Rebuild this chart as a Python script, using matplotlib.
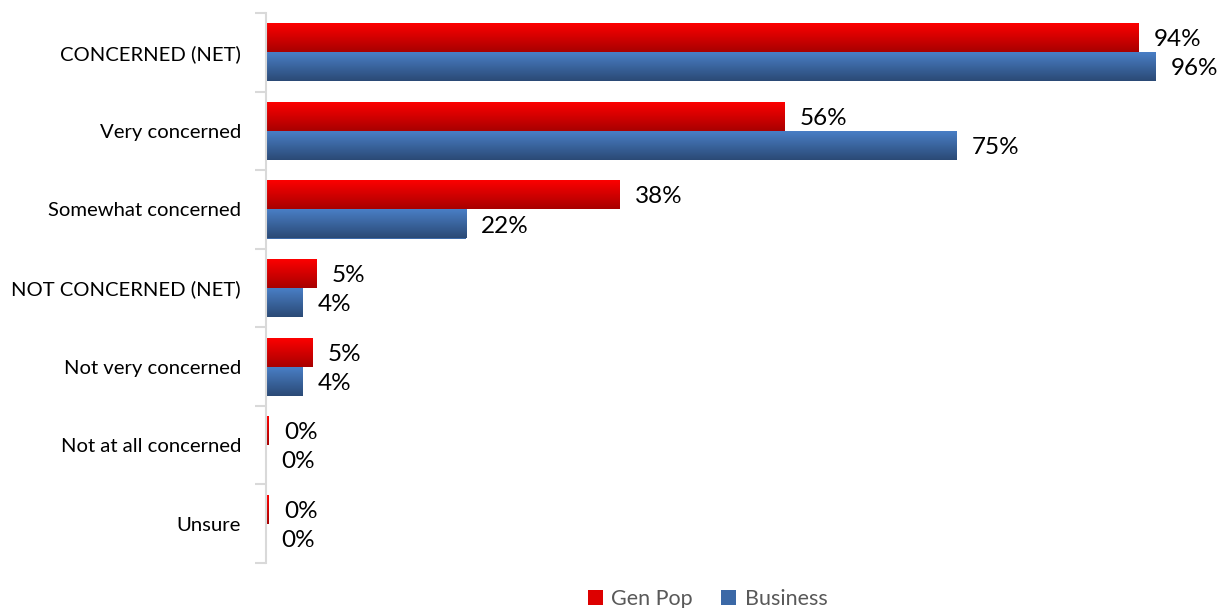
import numpy as np
import matplotlib.pyplot as plt
from matplotlib.patches import Patch

categories = ['CONCERNED (NET)', 'Very concerned', 'Somewhat concerned',
              'NOT CONCERNED (NET)', 'Not very concerned', 'Not at all concerned', 'Unsure']
gen_pop = [94.2, 56.0, 38.2, 5.4, 5.0, 0.3, 0.3]
business = [96.0, 74.6, 21.6, 3.9, 3.9, 0.0, 0.0]
series_names = ['Gen Pop', 'Business']

plt.rcParams['font.family'] = ['Lato', 'DejaVu Sans']

fig = plt.figure(figsize=(12.2, 6.08), dpi=100)
ax = fig.add_axes([266 / 1220, 45 / 608, 1 - 266 / 1220, 550 / 608])

n = len(categories)
pos = np.arange(n)[::-1]
h = 0.37

red_grad = plt.matplotlib.colors.LinearSegmentedColormap.from_list('r', ['#a80000', '#ff0000'])
blue_grad = plt.matplotlib.colors.LinearSegmentedColormap.from_list('b', ['#2b4a76', '#4a80c8'])
grad = np.linspace(0, 1, 64).reshape(-1, 1)

bars_r = ax.barh(pos + h / 2, gen_pop, height=h, color='#e00000')
bars_b = ax.barh(pos - h / 2, business, height=h, color='#3d6aa8')

# gradient fill top-to-bottom on each bar
for bars, cm in [(bars_r, red_grad), (bars_b, blue_grad)]:
    for p in bars:
        w = p.get_width()
        if w <= 0:
            continue
        x0, y0 = p.get_x(), p.get_y()
        im = ax.imshow(grad, extent=[x0, x0 + w, y0, y0 + p.get_height()],
                       origin='lower', aspect='auto', cmap=cm, zorder=2)
        im.set_clip_path(p)

for bars, vals in [(bars_r, gen_pop), (bars_b, business)]:
    for p, v in zip(bars, vals):
        ax.annotate('{:.0f}%'.format(v), (p.get_width(), p.get_y() + p.get_height() / 2),
                    xytext=(11, -1.5), textcoords='offset points', va='center', ha='left',
                    fontsize=17.5, color='#000000')

ax.set_xlim(0, 103)
ax.set_ylim(-0.5, n - 0.5)
ax.set_yticks(pos)
ax.set_yticklabels(categories, fontsize=14.6)
ax.set_yticks(np.arange(n + 1) - 0.5, minor=True)
ax.tick_params(axis='y', which='major', length=0, pad=18)
ax.tick_params(axis='y', which='minor', length=8, color='#d9d9d9', width=1.5)
ax.set_xticks([])
for s in ['top', 'right', 'bottom']:
    ax.spines[s].set_visible(False)
ax.spines['left'].set_color('#d9d9d9')
ax.spines['left'].set_linewidth(1.5)

handles = [Patch(facecolor='#dd0000'), Patch(facecolor='#3b68a6')]
fig.legend(handles, series_names, loc='lower center', bbox_to_anchor=(0.58, -0.033),
           ncol=2, frameon=False, fontsize=15.5, labelcolor='#595959',
           handlelength=0.7, handleheight=0.7, handletextpad=0.4, columnspacing=1.3)

fig.savefig('out.png', dpi=100)
